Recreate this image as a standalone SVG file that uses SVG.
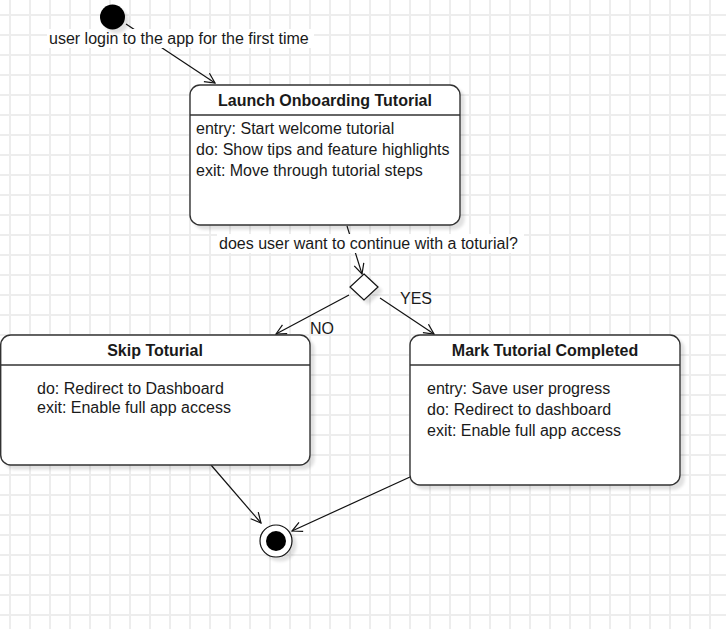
<svg xmlns="http://www.w3.org/2000/svg" width="726" height="629" viewBox="0 0 726 629">
<defs>
<pattern id="grid" x="0" y="5" width="20" height="20" patternUnits="userSpaceOnUse">
<path d="M10,0 V20 M0,10 H20" stroke="#ededed" stroke-width="2" fill="none"/>
</pattern>
<filter id="sh" x="-10%" y="-10%" width="130%" height="130%">
<feGaussianBlur in="SourceAlpha" stdDeviation="1.5"/>
<feOffset dx="4" dy="4" result="o"/>
<feComponentTransfer><feFuncA type="linear" slope="0.12"/></feComponentTransfer>
<feMerge><feMergeNode/><feMergeNode in="SourceGraphic"/></feMerge>
</filter>
<marker id="arr" viewBox="0 0 12 12" refX="11" refY="6" markerWidth="12" markerHeight="12" markerUnits="userSpaceOnUse" orient="auto">
<path d="M1,1 L11,6 L1,11" fill="none" stroke="#111" stroke-width="1.2"/>
</marker>
</defs>
<style>
.box{fill:#fff;stroke:#333;stroke-width:1.4}
.div{stroke:#333;stroke-width:1.4}
.t{font-family:"Liberation Sans",Arial,sans-serif;font-size:16px;fill:#1a1a1a}
.b{font-weight:bold;text-anchor:middle}
.e{stroke:#111;stroke-width:1.2;fill:none;marker-end:url(#arr)}
.lbl{fill:#fff}
</style>
<rect width="726" height="629" fill="#fff"/>
<rect width="726" height="629" fill="url(#grid)"/>

<g id="connectors">
<path class="e" d="M126,24 L215,83"/>
<path class="e" d="M347,226 L362,274"/>
<path class="e" d="M349,295 L276,334"/>
<path class="e" d="M380,298 L434,334"/>
<path class="e" d="M211,465 L261,523"/>
<path class="e" d="M410,477 L292,531"/>
<rect class="lbl" x="47" y="29" width="267" height="19"/>
<text class="t" x="49" y="44">user login to the app for the first time</text>
<rect class="lbl" x="217" y="234" width="307" height="19"/>
<text class="t" x="219" y="249">does user want to continue with a toturial?</text>
<text class="t" x="400" y="304">YES</text>
<text class="t" x="310" y="334">NO</text>
</g>

<g id="start">
<circle cx="112.5" cy="17" r="12.5" fill="#000" filter="url(#sh)"/>
</g>

<g id="launch">
<g filter="url(#sh)">
<rect class="box" x="190" y="85" width="270" height="140" rx="10"/>
</g>
<line class="div" x1="190" y1="115" x2="460" y2="115"/>
<text class="t b" x="325" y="106">Launch Onboarding Tutorial</text>
<text class="t" x="196" y="134">entry: Start welcome tutorial</text>
<text class="t" x="196" y="155">do: Show tips and feature highlights</text>
<text class="t" x="196" y="176">exit: Move through tutorial steps</text>
</g>

<g id="decision">
<path d="M364,274 L378,287 L364,300 L350,287 Z" fill="#fff" stroke="#111" stroke-width="1.2" filter="url(#sh)"/>
</g>

<g id="skip">
<g filter="url(#sh)">
<rect class="box" x="0.7" y="335" width="309.3" height="130" rx="10"/>
</g>
<line class="div" x1="0" y1="365" x2="310" y2="365"/>
<text class="t b" x="155" y="356">Skip Toturial</text>
<text class="t" x="37" y="394">do: Redirect to Dashboard</text>
<text class="t" x="37" y="413">exit: Enable full app access</text>
</g>

<g id="mark">
<g filter="url(#sh)">
<rect class="box" x="410" y="335" width="270" height="150" rx="10"/>
</g>
<line class="div" x1="410" y1="365" x2="680" y2="365"/>
<text class="t b" x="545" y="356">Mark Tutorial Completed</text>
<text class="t" x="427" y="394">entry: Save user progress</text>
<text class="t" x="427" y="415">do: Redirect to dashboard</text>
<text class="t" x="427" y="436">exit: Enable full app access</text>
</g>

<g id="end">
<circle cx="276" cy="541" r="16" fill="#fff" stroke="#111" stroke-width="1.2" filter="url(#sh)"/>
<circle cx="276" cy="541" r="10" fill="#000"/>
</g>
</svg>
